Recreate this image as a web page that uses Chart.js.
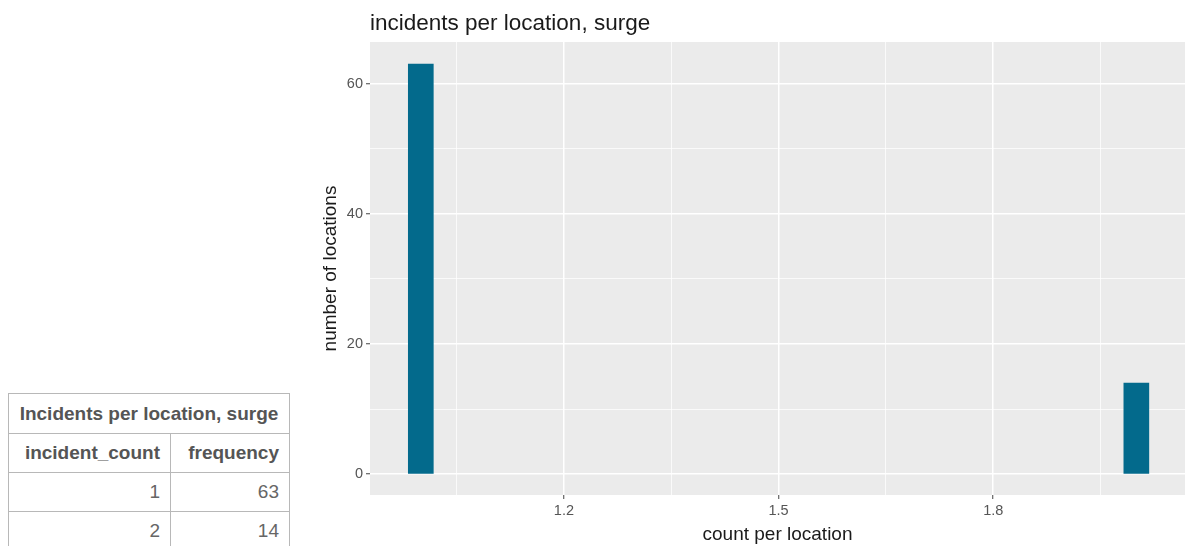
<!DOCTYPE html>
<html>
<head>
<meta charset="utf-8">
<script src="https://cdn.jsdelivr.net/npm/chart.js@4.4.1/dist/chart.umd.min.js"></script>
<style>
  html, body { margin: 0; padding: 0; background: #fff; }
  body { width: 1185px; height: 546px; overflow: hidden; position: relative; font-family: "Liberation Sans", Arial, sans-serif; }
  #wrap { position: absolute; left: 310px; top: 0; width: 875px; height: 546px; }
  #tbl { position: absolute; left: 8px; top: 393px; border-collapse: collapse; width: 282px; }
  #tbl td, #tbl th { border: 1px solid #b8b8b8; padding: 0 10px; font-size: 19px; box-sizing: border-box; }
  #tbl th { color: #555; font-weight: bold; }
  #tbl td { color: #666; text-align: right; }
  #tbl .cap { text-align: center; height: 40px; }
  #tbl .hdr th { text-align: right; height: 39px; }
  #tbl tr.row td { height: 39px; }
</style>
</head>
<body>
<table id="tbl"></table>
<div id="wrap"><canvas id="c"></canvas></div>
<script>
// ---- data ----
const tableTitle = "Incidents per location, surge";
const columnNames = ["incident_count", "frequency"];
const incidentCounts = [1, 2];
const frequencies = [63, 14];
const chartTitle = "incidents per location, surge";
const xTitle = "count per location";
const yTitle = "number of locations";
const xMajorTicks = [1.2, 1.5, 1.8];
const xMinorTicks = [1.05, 1.35, 1.65, 1.95];
const yMajorTicks = [0, 20, 40, 60];
const yMinorTicks = [10, 30, 50];

// ---- table ----
(function buildTable() {
  const t = document.getElementById('tbl');
  let html = '<tr><th class="cap" colspan="2">' + tableTitle + '</th></tr>';
  html += '<tr class="hdr"><th style="width:162px">' + columnNames[0] + '</th><th>' + columnNames[1] + '</th></tr>';
  incidentCounts.forEach((c, i) => {
    html += '<tr class="row"><td>' + c + '</td><td>' + frequencies[i] + '</td></tr>';
  });
  t.innerHTML = html;
})();

// ---- chart ----
const FONT = "'Liberation Sans', Arial, sans-serif";
const panelBg = {
  id: 'panelBg',
  beforeDraw(chart) {
    const { ctx, chartArea: a } = chart;
    ctx.save();
    ctx.fillStyle = '#ebebeb';
    ctx.fillRect(a.left, a.top, a.right - a.left, a.bottom - a.top);
    ctx.restore();
  },
  afterDraw(chart) {
    const { ctx, chartArea: a } = chart;
    ctx.save();
    ctx.fillStyle = '#1a1a1a';
    ctx.font = '22.5px ' + FONT;
    ctx.textBaseline = 'alphabetic';
    ctx.textAlign = 'left';
    ctx.fillText(chartTitle, a.left, 30);
    ctx.restore();
  }
};

function tickSetter(major, minor) {
  return function (scale) {
    scale.ticks = [...major, ...minor].sort((a, b) => a - b).map(v => ({ value: v }));
  };
}
function isMajor(list, ctx) {
  return !!(ctx && ctx.tick && list.includes(ctx.tick.value));
}

new Chart(document.getElementById('c'), {
  type: 'bar',
  data: {
    datasets: [{
      data: incidentCounts.map((c, i) => ({ x: c, y: frequencies[i] })),
      backgroundColor: '#036a8c',
      borderWidth: 0,
      barThickness: 25
    }]
  },
  plugins: [panelBg],
  options: {
    responsive: true,
    maintainAspectRatio: false,
    animation: false,
    layout: { padding: { left: 0, right: 0, top: 42, bottom: 0 } },
    plugins: { legend: { display: false }, tooltip: { enabled: false }, title: { display: false } },
    scales: {
      x: {
        type: 'linear',
        offset: false,
        min: 0.929,
        max: 2.068,
        afterBuildTicks: tickSetter(xMajorTicks, xMinorTicks),
        afterFit(scale) { scale.height = 51; },
        border: { display: false },
        grid: {
          offset: false,
          color: '#ffffff',
          lineWidth: ctx => isMajor(xMajorTicks, ctx) ? 1.5 : 0.75,
          tickLength: 4,
          tickWidth: 1,
          tickColor: ctx => isMajor(xMajorTicks, ctx) ? '#444' : 'rgba(0,0,0,0)'
        },
        ticks: {
          autoSkip: false,
          maxRotation: 0,
          padding: 3,
          color: '#555',
          font: { family: FONT, size: 14.5 },
          callback: v => xMajorTicks.includes(v) ? String(v) : ''
        },
        title: {
          display: true,
          text: xTitle,
          color: '#1a1a1a',
          font: { family: FONT, size: 19 },
          padding: { top: 0, bottom: 0 }
        }
      },
      y: {
        type: 'linear',
        min: -3.2,
        max: 66.4,
        afterBuildTicks: tickSetter(yMajorTicks, yMinorTicks),
        afterFit(scale) { scale.width = 60; },
        border: { display: false },
        grid: {
          offset: false,
          color: '#ffffff',
          lineWidth: ctx => isMajor(yMajorTicks, ctx) ? 1.5 : 0.75,
          tickLength: 4,
          tickWidth: 1,
          tickColor: ctx => isMajor(yMajorTicks, ctx) ? '#444' : 'rgba(0,0,0,0)'
        },
        ticks: {
          autoSkip: false,
          padding: 3,
          color: '#555',
          font: { family: FONT, size: 14.5 },
          callback: v => yMajorTicks.includes(v) ? String(v) : ''
        },
        title: {
          display: true,
          text: yTitle,
          color: '#1a1a1a',
          font: { family: FONT, size: 19 },
          padding: { top: 9, bottom: 0 }
        }
      }
    }
  }
});
</script>
</body>
</html>
